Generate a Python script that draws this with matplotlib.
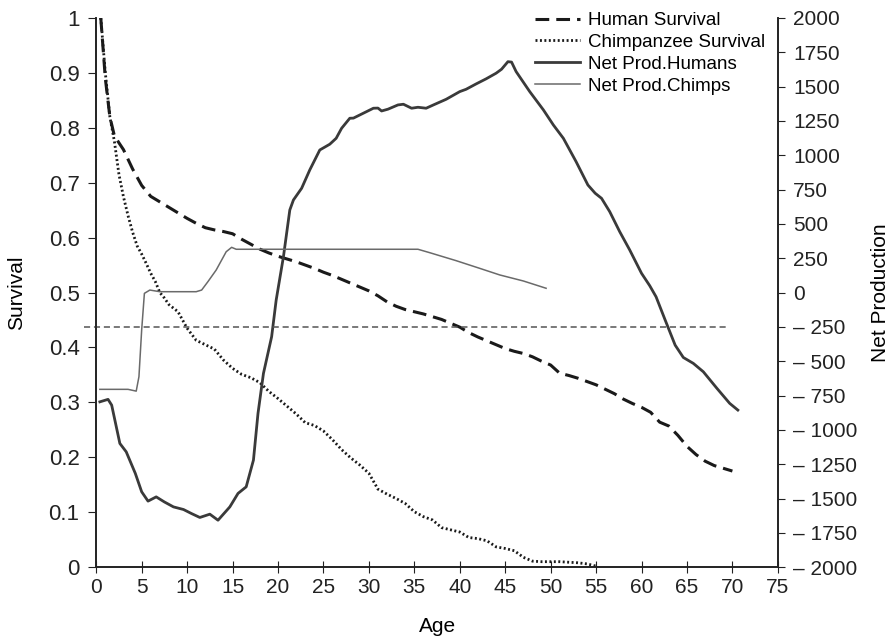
import matplotlib.pyplot as plt

plt.rcParams['font.family'] = ['Liberation Sans', 'DejaVu Sans']

# survival curves (left axis)
human_age = [0.5, 1, 1.5, 2, 3, 4, 5, 6, 7, 8, 9, 10, 11, 12, 13, 14, 15, 16, 17, 18, 19, 20,
             21, 22, 23, 24, 25, 26, 27, 28, 29, 30, 31, 32, 33, 34, 35, 36, 37, 38, 39, 40,
             41, 42, 43, 44, 45, 46, 47, 48, 49, 50, 51, 52, 53, 54, 55, 56, 57, 58, 59, 60,
             61, 62, 63, 64, 65, 66, 67, 68, 69, 70]
human_surv = [1.0, 0.89, 0.82, 0.785, 0.76, 0.725, 0.695, 0.675, 0.665, 0.655, 0.645, 0.635,
              0.626, 0.618, 0.614, 0.611, 0.607, 0.597, 0.588, 0.579, 0.572, 0.566, 0.561,
              0.556, 0.55, 0.544, 0.537, 0.531, 0.524, 0.517, 0.51, 0.503, 0.494, 0.483,
              0.475, 0.469, 0.465, 0.461, 0.456, 0.451, 0.444, 0.437, 0.427, 0.419, 0.412,
              0.405, 0.398, 0.393, 0.389, 0.383, 0.375, 0.368, 0.353, 0.349, 0.344, 0.338,
              0.332, 0.324, 0.316, 0.306, 0.298, 0.291, 0.282, 0.264, 0.257, 0.24, 0.22,
              0.205, 0.193, 0.185, 0.18, 0.175]

chimp_age = [0.5, 1, 1.5, 2, 2.5, 3, 3.5, 4, 4.5, 5, 5.5, 6, 6.5, 7, 7.5, 8, 9, 10, 11, 12, 13,
             14, 15, 16, 17, 18, 19, 20, 21, 22, 23, 24, 25, 26, 27, 28, 29, 30, 31, 32, 33,
             34, 35, 36, 37, 38, 39, 40, 41, 42, 43, 44, 45, 46, 47, 48, 49, 50, 51, 52, 53,
             54, 55]
chimp_surv = [1.0, 0.9, 0.82, 0.775, 0.715, 0.674, 0.64, 0.61, 0.585, 0.57, 0.553, 0.535,
              0.52, 0.5, 0.49, 0.478, 0.465, 0.435, 0.413, 0.405, 0.397, 0.377, 0.362, 0.351,
              0.345, 0.336, 0.32, 0.307, 0.293, 0.279, 0.263, 0.258, 0.248, 0.232, 0.214,
              0.199, 0.186, 0.171, 0.142, 0.133, 0.125, 0.116, 0.101, 0.092, 0.086, 0.072,
              0.068, 0.064, 0.054, 0.052, 0.048, 0.037, 0.034, 0.03, 0.018, 0.011, 0.01,
              0.01, 0.01, 0.009, 0.008, 0.006, 0.002]

# net production (right axis)
np_human_age = [0.4, 1.3, 1.7, 2.6, 3.3, 4.3, 5.0, 5.7, 6.6, 7.5, 8.5, 9.6, 10.5, 11.4, 12.5,
                13.4, 14.7, 15.6, 16.5, 17.3, 17.8, 18.4, 19.3, 19.8, 20.6, 21.3, 21.7, 22.6,
                23.5, 24.6, 25.7, 26.4, 27.0, 27.9, 28.3, 29.4, 30.5, 31.0, 31.4, 32.1, 33.2,
                33.8, 34.7, 35.4, 36.3, 37.1, 38.5, 40.0, 40.7, 41.8, 42.9, 44.0, 44.6, 45.3,
                45.7, 46.2, 47.7, 49.2, 50.3, 51.4, 52.8, 54.1, 54.9, 55.6, 56.5, 57.6, 58.7,
                60.0, 60.9, 61.6, 62.6, 63.7, 64.6, 65.7, 66.8, 68.3, 69.7, 70.6]
np_human = [-796, -778, -820, -1099, -1160, -1317, -1451, -1519, -1488, -1525, -1561, -1580,
            -1610, -1638, -1614, -1658, -1561, -1463, -1415, -1220, -880, -589, -322, -55,
            261, 601, 674, 759, 893, 1038, 1080, 1123, 1196, 1269, 1270, 1306, 1342, 1343,
            1322, 1335, 1366, 1371, 1342, 1349, 1342, 1366, 1407, 1463, 1480, 1519, 1556,
            1597, 1626, 1681, 1678, 1609, 1463, 1330, 1220, 1123, 953, 783, 723, 686, 589,
            443, 310, 140, 50, -31, -200, -383, -473, -516, -577, -698, -807, -856]

np_chimp_age = [0.4, 3.5, 4.4, 4.7, 5.0, 5.3, 5.9, 7.0, 11.0, 11.6, 12.3, 13.2, 14.3, 14.9,
                15.4, 20, 25, 30, 35.4, 36.7, 39.6, 42.2, 44.4, 47.0, 49.5]
np_chimp = [-705, -705, -718, -613, -273, -6, 18, 6, 6, 18, 80, 164, 297, 329, 315, 315, 315,
            315, 315, 290, 232, 176, 128, 84, 31]

ref_line = -250
x_ticks = list(range(0, 80, 5))
left_ticks = [0, 0.1, 0.2, 0.3, 0.4, 0.5, 0.6, 0.7, 0.8, 0.9, 1]
left_labels = ['0', '0.1', '0.2', '0.3', '0.4', '0.5', '0.6', '0.7', '0.8', '0.9', '1']
right_ticks = list(range(-2000, 2001, 250))
right_labels = [str(v) if v >= 0 else '\u2013 ' + str(-v) for v in right_ticks]

fig = plt.figure(figsize=(8.91, 6.38), dpi=100)
ax = fig.add_axes([0.108, 0.111, 0.765, 0.861])
ax2 = ax.twinx()

l1, = ax.plot(human_age, human_surv, color='#1a1a1a', lw=2.2, ls=(0, (4.5, 2.3)), label='Human Survival')
l2, = ax.plot(chimp_age, chimp_surv, color='#1a1a1a', lw=2.0, ls=(0, (0.7, 0.9)), label='Chimpanzee Survival')
l3, = ax2.plot(np_human_age, np_human, color='#3a3a3a', lw=2.0, label='Net Prod.Humans')
l4, = ax2.plot(np_chimp_age, np_chimp, color='#6a6a6a', lw=1.1, label='Net Prod.Chimps')
ax2.plot([-1.3, 69.5], [ref_line, ref_line], color='#555555', lw=1.1, ls=(0, (4, 2.5)), clip_on=False)

ax.set_xlim(0, 75)
ax.set_ylim(0, 1)
ax2.set_ylim(-2000, 2000)
ax.set_xticks(x_ticks)
ax.set_yticks(left_ticks)
ax.set_yticklabels(left_labels)
ax2.set_yticks(right_ticks)
ax2.set_yticklabels(right_labels)

for a in (ax, ax2):
    a.spines['top'].set_visible(False)
    for s in a.spines.values():
        s.set_color('#222222')
        s.set_linewidth(1.2)
ax.tick_params(axis='x', direction='inout', length=8, labelsize=15, colors='#222222', pad=4)
ax.tick_params(axis='y', direction='out', length=6, labelsize=16, colors='#222222', pad=6)
ax2.tick_params(axis='y', direction='out', length=5, labelsize=15, colors='#222222', pad=6)

ax.set_xlabel('Age', fontsize=15, labelpad=14)
ax.set_ylabel('Survival', fontsize=15, labelpad=16)
ax2.set_ylabel('Net Production', fontsize=15, labelpad=10)

fig.legend(handles=[l1, l2, l3, l4], loc='upper left', bbox_to_anchor=(535 / 891, 1 - 12 / 638),
           frameon=False, fontsize=13.5, handlelength=2.4, handletextpad=0.4,
           labelspacing=0.25, borderpad=0, borderaxespad=0)

fig.savefig('out.png', dpi=100)
